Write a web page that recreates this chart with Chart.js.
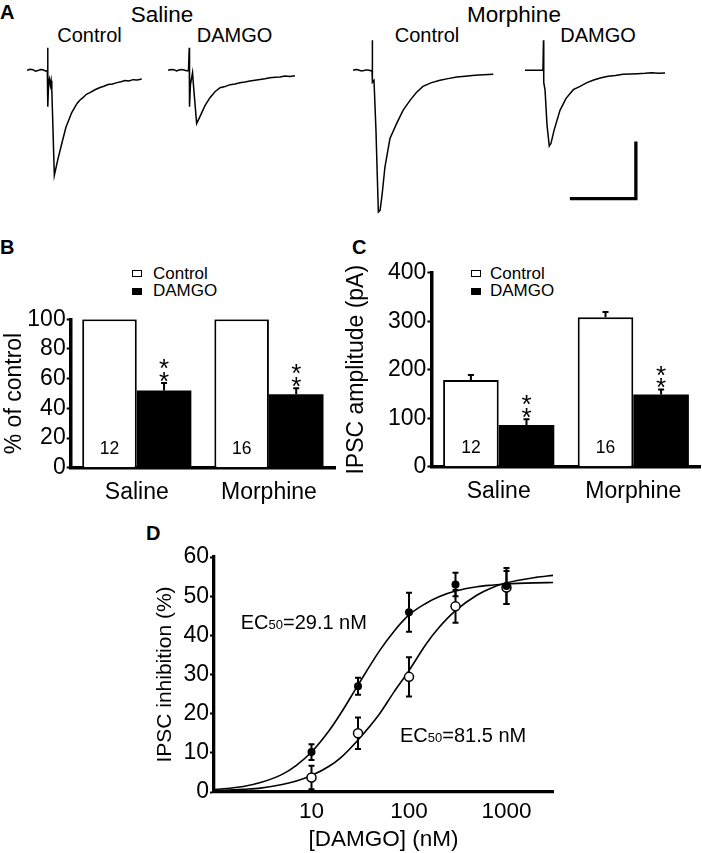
<!DOCTYPE html>
<html>
<head>
<meta charset="utf-8">
<script src="https://cdn.jsdelivr.net/npm/chart.js@4.4.1/dist/chart.umd.min.js"></script>
<style>
    body { margin: 0; background: #fff; }
    #fig { position: relative; width: 702px; height: 853px; overflow: hidden; font-family: "Liberation Sans", Arial, Helvetica, sans-serif; color: #000; }
    #fig canvas { position: absolute; }
    .txt { position: absolute; white-space: nowrap; line-height: 1; }
    .c { transform: translateX(-50%); }
    .letter { font-weight: bold; font-size: 20px; }
    .box { position: absolute; width: 10px; height: 7px; border: 1.5px solid #000; box-sizing: border-box; background: #fff; }
    .box.fill { background: #000; }
    .ec { font-size: 20px; }
    .ec span { font-size: 13px; }
</style>
</head>
<body>
<div id="fig">
    <!-- panel A -->
    <div class="txt letter" style="left:0; top:1.5px;">A</div>
    <div class="txt c" style="left:162px; top:4px; font-size:22.5px;">Saline</div>
    <div class="txt c" style="left:514px; top:4px; font-size:22.5px;">Morphine</div>
    <div class="txt c" style="left:89.5px; top:25px; font-size:20px;">Control</div>
    <div class="txt c" style="left:234.5px; top:25px; font-size:20px;">DAMGO</div>
    <div class="txt c" style="left:427px; top:25px; font-size:20px;">Control</div>
    <div class="txt c" style="left:598px; top:25px; font-size:20px;">DAMGO</div>
    <canvas id="traceSalCtrl" width="122" height="180" style="left:27px; top:39.4px;"></canvas>
    <canvas id="traceSalDamgo" width="132" height="180" style="left:168px; top:39.4px;"></canvas>
    <canvas id="traceMorCtrl" width="145" height="180" style="left:353px; top:39.4px;"></canvas>
    <canvas id="traceMorDamgo" width="145" height="180" style="left:525px; top:39.4px;"></canvas>

    <!-- panel B -->
    <div class="txt letter" style="left:0; top:236.5px;">B</div>
    <div class="box" style="left:132px; top:269.5px;"></div>
    <div class="txt" style="left:153px; top:264.6px; font-size:17px;">Control</div>
    <div class="box fill" style="left:132px; top:287.5px;"></div>
    <div class="txt" style="left:153px; top:281.6px; font-size:17px;">DAMGO</div>
    <canvas id="pctChart" width="340" height="215" style="left:0; top:300px;"></canvas>

    <!-- panel C -->
    <div class="txt letter" style="left:352px; top:236.5px;">C</div>
    <div class="box" style="left:471px; top:270px;"></div>
    <div class="txt" style="left:490px; top:264.6px; font-size:17px;">Control</div>
    <div class="box fill" style="left:471px; top:287.5px;"></div>
    <div class="txt" style="left:490px; top:281.6px; font-size:17px;">DAMGO</div>
    <canvas id="ampChart" width="359" height="265" style="left:343px; top:250px;"></canvas>

    <!-- panel D -->
    <div class="txt letter" style="left:146px; top:523px;">D</div>
    <canvas id="doseChart" width="410" height="313" style="left:150px; top:540px;"></canvas>
    <div class="txt ec" style="left:240.7px; top:612.4px;">EC<span>50</span>=29.1 nM</div>
    <div class="txt ec" style="left:400px; top:725.4px;">EC<span>50</span>=81.5 nM</div>
</div>

<script>
// ---- panel A: example IPSC traces (time in ms, current in pA) ----
const salCtrlT = [0, 2.3, 4.5, 6.4, 8.3, 10.2, 12.1, 14.0, 15.4, 15.7, 15.8, 16.4, 17.0, 17.7, 18.3, 18.8, 20.7, 23.2, 26.5, 29.5, 33.9, 37.9, 40.2, 42.4, 45.0, 47.7, 51.5, 55.3, 58.3, 61.4, 64.8, 68.2, 71.2, 74.2, 77.3, 80.3, 83.6, 86.9];
const salCtrlI = [0, 1.8, 1.2, -1.4, -0.4, 1.5, 0.9, -1.0, -0.5, 39.8, -63.7, -19.8, -14.6, -26.8, -18.1, -33.9, -184.2, -158, -127, -100, -74, -58, -52, -48, -42, -39, -34, -30, -28, -25, -24, -21.5, -20, -18, -18.5, -16.3, -16.8, -15.1];

const salDamgoT = [0, 2.3, 4.5, 6.4, 8.3, 10.2, 12.1, 14.0, 15.5, 16.1, 16.3, 17.0, 18.6, 19.2, 21.7, 24.2, 28.0, 31.8, 35.6, 39.4, 43.2, 47.0, 50.8, 54.5, 58.3, 62.1, 65.9, 69.7, 73.5, 77.3, 81.1, 84.8, 88.6, 92.4, 96.2];
const salDamgoI = [0, 1.6, 1.2, -1.0, 0.5, 1.4, 0.7, -0.8, -0.5, 39.8, -63.7, -25.1, -4.0, -23.3, -93.5, -81.2, -61.9, -47.9, -37.4, -30.4, -28.5, -25.1, -23.8, -21.6, -20.5, -18.7, -17.2, -16.0, -14.8, -13.0, -12.3, -11.5, -10.0, -10.6, -9.3];

const morCtrlT = [0, 1.9, 3.8, 5.7, 7.6, 9.5, 11.4, 13.3, 14.4, 14.6, 14.8, 15.9, 17.4, 19.2, 20.5, 22.0, 24.2, 28.0, 33.1, 37.9, 43.2, 48.0, 53.0, 59.0, 65.9, 72.0, 78.6, 85.0, 92.4, 99.0, 106.3];
const morCtrlI = [0, 1.4, 0.9, -0.8, -0.9, 0.6, 0.4, -0.5, 0, 52.6, -21.1, -17.5, -105, -248.6, -245.6, -219, -169.6, -119.3, -93, -70.2, -52.6, -39, -28.1, -22, -17.5, -14.5, -11.8, -10.2, -8.8, -7.8, -7.0];

const morDamgoT = [0, 3.4, 6.8, 10.2, 13.6, 14.0, 14.2, 15.2, 16.7, 18.4, 19.7, 22.0, 26.5, 31.1, 36.6, 41.7, 46.5, 51.5, 57.0, 62.9, 68.5, 74.2, 80.0, 85.5, 90.9, 96.0, 101.0, 106.1];
const morDamgoI = [0, 0, 0, 0, 0, 52.6, -21.1, -35.1, -96.5, -132.8, -128, -105.3, -70.2, -49.1, -33.9, -28.1, -22, -17.5, -13.5, -10.5, -9.0, -7.0, -6.5, -5.8, -5.3, -4.4, -5.1, -4.7];

// scale bar: 50 ms, 100 pA
const scaleBarT = [34, 84, 84];
const scaleBarI = [-225, -225, -125];

// ---- panels B and C ----
const groups = ['Saline', 'Morphine'];
const cellCounts = [12, 16];
const pctControl = [100, 100];
const pctDamgo = [52, 49.5];
const pctDamgoErr = [5, 4];
const ampControl = [179, 308];
const ampControlErr = [10, 11];
const ampDamgo = [86, 149];
const ampDamgoErr = [12, 10];

// ---- panel D: dose response ----
const damgoConc = [10, 30, 100, 300, 1000];
const salineInhib = [10.2, 27.0, 45.9, 53.0, 52.6];
const salineErr = [2.0, 2.2, 5.0, 3.0, 4.6];
const morphineInhib = [3.7, 15.0, 29.4, 47.4, 52.2];
const morphineErr = [3.0, 4.0, 5.0, 4.2, 4.2];
const fitConc = [1, 2, 3, 5, 7, 10, 15, 20, 30, 50, 70, 100, 150, 200, 300, 500, 700, 1000, 2000, 3000];
const salineFit = [0.6, 1.4, 2.4, 4.5, 6.8, 10.2, 15.5, 20.1, 27.3, 36.1, 41.0, 45.2, 48.2, 49.8, 51.3, 52.4, 52.8, 53.1, 53.4, 53.5];
const morphineFit = [0.3, 0.7, 1.0, 1.9, 2.8, 4.2, 6.5, 8.8, 13.3, 20.0, 25.5, 31.0, 37.8, 41.8, 46.3, 50.3, 52.1, 53.4, 54.8, 55.3];
const doseTicks = [10, 100, 1000];

Chart.defaults.font.family = '"Liberation Sans", Arial, Helvetica, sans-serif';
Chart.defaults.color = '#000';
Chart.defaults.animation = false;
Chart.defaults.plugins.legend.display = false;
Chart.defaults.plugins.tooltip.enabled = false;

const pxPerMs = 1.32;
const traceMax = 55;
const traceMin = -260.8;

function xyPoints(xs, ys) {
    return xs.map((x, k) => ({ x: x, y: ys[k] }));
}

function traceChart(id, t, cur, extra) {
    const canvas = document.getElementById(id);
    const datasets = [{
        data: xyPoints(t, cur),
        borderColor: '#000',
        borderWidth: 1.5,
        pointRadius: 0,
        tension: 0,
        clip: false
    }];
    if (extra) datasets.push(extra);
    new Chart(canvas, {
        type: 'line',
        data: { datasets: datasets },
        options: {
            responsive: false,
            layout: { padding: 0 },
            scales: {
                x: { type: 'linear', display: false, min: 0, max: canvas.width / pxPerMs },
                y: { display: false, min: traceMin, max: traceMax }
            }
        }
    });
}

traceChart('traceSalCtrl', salCtrlT, salCtrlI);
traceChart('traceSalDamgo', salDamgoT, salDamgoI);
traceChart('traceMorCtrl', morCtrlT, morCtrlI);
traceChart('traceMorDamgo', morDamgoT, morDamgoI, {
    data: xyPoints(scaleBarT, scaleBarI),
    borderColor: '#000',
    borderWidth: 3.3,
    pointRadius: 0,
    tension: 0,
    clip: false,
    borderCapStyle: 'butt',
    borderJoinStyle: 'miter'
});

// error bars (upward), n labels and significance stars for the bar charts
const barMarks = {
    id: 'barMarks',
    afterDatasetsDraw(chart, args, opts) {
        const ctx = chart.ctx;
        const y = chart.scales.y;
        ctx.save();
        ctx.strokeStyle = '#000';
        ctx.fillStyle = '#000';
        ctx.lineWidth = 2;
        ctx.textAlign = 'center';
        opts.errors.forEach((errs, ds) => {
            if (!errs) return;
            const vals = chart.data.datasets[ds].data;
            chart.getDatasetMeta(ds).data.forEach((bar, k) => {
                const top = y.getPixelForValue(vals[k] + errs[k]);
                ctx.beginPath();
                ctx.moveTo(bar.x, bar.y);
                ctx.lineTo(bar.x, top);
                ctx.moveTo(bar.x - 3, top);
                ctx.lineTo(bar.x + 3, top);
                ctx.stroke();
                if (ds === 1) {
                    ctx.font = '26px "Liberation Sans", Arial, sans-serif';
                    ctx.fillText('*', bar.x, top - 8 + 14.5);
                    ctx.fillText('*', bar.x, top - 20.5 + 14.5);
                }
            });
        });
        ctx.font = '17.5px "Liberation Sans", Arial, sans-serif';
        chart.getDatasetMeta(0).data.forEach((bar, k) => {
            ctx.fillText(String(opts.counts[k]), bar.x, y.getPixelForValue(0) - 14);
        });
        ctx.restore();
    }
};

function barChart(id, ctrl, damgo, errs, yMax, yStep, yTitle, yWidth, xHeight, pad, titlePad) {
    new Chart(document.getElementById(id), {
        type: 'bar',
        data: {
            labels: groups,
            datasets: [
                { label: 'Control', data: ctrl, backgroundColor: '#fff', borderColor: '#000', borderWidth: 2 },
                { label: 'DAMGO', data: damgo, backgroundColor: '#000', borderColor: '#000', borderWidth: 0 }
            ]
        },
        options: {
            responsive: false,
            layout: { padding: pad },
            categoryPercentage: 0.826,
            barPercentage: 1.0,
            scales: {
                x: {
                    grid: { display: false, drawTicks: false },
                    border: { display: true, width: 3.5, color: '#000' },
                    ticks: { font: { size: 23 }, padding: 11 },
                    afterFit(s) { s.height = xHeight; }
                },
                y: {
                    min: 0,
                    max: yMax,
                    ticks: { stepSize: yStep, autoSkip: false, font: { size: 23 }, padding: 1 },
                    grid: { drawOnChartArea: false, drawTicks: true, tickLength: 4, tickColor: '#000', tickWidth: 2 },
                    border: { display: true, width: 3.5, color: '#000' },
                    title: { display: true, text: yTitle, font: { size: 23 }, padding: { top: titlePad, bottom: 0 } },
                    afterFit(s) { s.width = yWidth; }
                }
            },
            plugins: { barMarks: { errors: errs, counts: cellCounts } }
        },
        plugins: [barMarks]
    });
}

barChart('pctChart', pctControl, pctDamgo, [null, pctDamgoErr], 100, 20, '% of control', 70.7, 47.3,
    { left: 0, top: 19.3, right: 5, bottom: 0 }, 1);
barChart('ampChart', ampControl, ampDamgo, [ampControlErr, ampDamgoErr], 400, 100, 'IPSC amplitude (pA)', 88.4, 48.3,
    { left: 0, top: 22.7, right: 1.4, bottom: 0 }, 0);

// vertical error bars under the dose-response points
const doseErrors = {
    id: 'doseErrors',
    beforeDatasetsDraw(chart, args, opts) {
        const ctx = chart.ctx;
        const x = chart.scales.x;
        const y = chart.scales.y;
        ctx.save();
        ctx.strokeStyle = '#000';
        ctx.lineWidth = 2;
        opts.sets.forEach(set => {
            set.means.forEach((m, k) => {
                const px = x.getPixelForValue(damgoConc[k]);
                const lo = y.getPixelForValue(m - set.errs[k]);
                const hi = y.getPixelForValue(m + set.errs[k]);
                ctx.beginPath();
                ctx.moveTo(px, lo);
                ctx.lineTo(px, hi);
                ctx.moveTo(px - 3, lo);
                ctx.lineTo(px + 3, lo);
                ctx.moveTo(px - 3, hi);
                ctx.lineTo(px + 3, hi);
                ctx.stroke();
            });
        });
        ctx.restore();
    }
};

new Chart(document.getElementById('doseChart'), {
    type: 'line',
    data: {
        datasets: [
            { label: 'Saline', data: xyPoints(damgoConc, salineInhib), showLine: false, order: 0,
              pointRadius: 4, pointBackgroundColor: '#000', pointBorderColor: '#000', pointBorderWidth: 0 },
            { label: 'Morphine', data: xyPoints(damgoConc, morphineInhib), showLine: false, order: 1,
              pointRadius: 4.5, pointBackgroundColor: '#fff', pointBorderColor: '#000', pointBorderWidth: 1.5 },
            { label: 'Saline fit', data: xyPoints(fitConc, salineFit), order: 2, borderColor: '#000', borderWidth: 1.6,
              pointRadius: 0, cubicInterpolationMode: 'monotone' },
            { label: 'Morphine fit', data: xyPoints(fitConc, morphineFit), order: 3, borderColor: '#000', borderWidth: 1.6,
              pointRadius: 0, cubicInterpolationMode: 'monotone' }
        ]
    },
    options: {
        responsive: false,
        layout: { padding: { left: 0, top: 17, right: 7, bottom: 0 } },
        scales: {
            x: {
                type: 'logarithmic',
                min: 1,
                max: 3000,
                afterBuildTicks(s) { s.ticks = doseTicks.map(v => ({ value: v })); },
                ticks: { font: { size: 22.5 }, padding: 6, callback: v => String(v) },
                grid: { display: false, drawTicks: false },
                border: { display: true, width: 3.3, color: '#000' },
                title: { display: true, text: '[DAMGO] (nM)', font: { size: 22.5 }, padding: 0 },
                afterFit(s) { s.height = 61; }
            },
            y: {
                min: 0,
                max: 60,
                ticks: { stepSize: 10, autoSkip: false, font: { size: 23 }, padding: 1 },
                grid: { drawOnChartArea: false, drawTicks: true, tickLength: 4, tickColor: '#000', tickWidth: 2 },
                border: { display: true, width: 3.3, color: '#000' },
                title: { display: true, text: 'IPSC inhibition (%)', font: { size: 21 }, padding: { top: 2.4, bottom: 0 } },
                afterFit(s) { s.width = 64; }
            }
        },
        plugins: {
            doseErrors: { sets: [
                { means: salineInhib, errs: salineErr },
                { means: morphineInhib, errs: morphineErr }
            ] }
        }
    },
    plugins: [doseErrors]
});
</script>
</body>
</html>
